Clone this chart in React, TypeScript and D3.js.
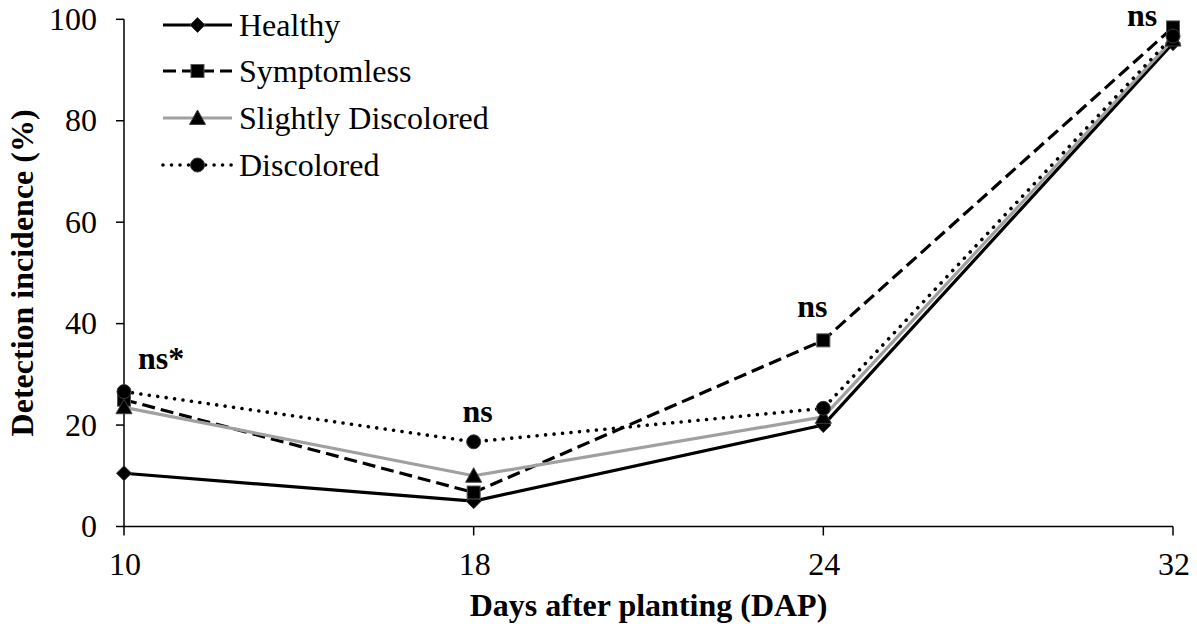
import React from "react";
import * as d3 from "d3";

const categories = ["10", "18", "24", "32"];
const yTicks = [0, 20, 40, 60, 80, 100];

const healthy = [10.5, 5, 20, 95.3];
const symptomless = [25, 6.7, 36.7, 98.4];
const slightlyDiscolored = [23.5, 10, 21.6, 96];
const discolored = [26.6, 16.7, 23.3, 96.7];

const seriesNames = ["Healthy", "Symptomless", "Slightly Discolored", "Discolored"];

// annotation text anchored at a category and a y value
const annotationTexts = ["ns*", "ns", "ns", "ns"];
const annotationCats = ["10", "18", "24", "32"];
const annotationValues = [31, 20.7, 41.4, 98.6];

const W = 1197;
const H = 630;
const M = { left: 124, right: 1173, top: 19.3, bottom: 526.5 };
const FONT = "Liberation Serif, Times New Roman, Times, serif";
const FS = 32;

type Style = {
  color: string;
  dash?: string;
  cap?: string;
  width: number;
  marker: "diamond" | "square" | "triangle" | "circle";
};

const styles: Style[] = [
  { color: "#000", width: 3.2, marker: "diamond" },
  { color: "#000", width: 3.2, dash: "13 6", marker: "square" },
  { color: "#a0a0a0", width: 3.2, marker: "triangle" },
  { color: "#000", width: 3.6, dash: "0.01 8.5", cap: "round", marker: "circle" },
];

const annotationDx = [14, 4, -11, -31];
const annotationAnchor = ["start", "middle", "middle", "middle"];

function Marker({ type, x, y }: { type: Style["marker"]; x: number; y: number }) {
  const fill = "#000";
  const stroke = "#3a3a3a";
  if (type === "diamond") {
    const r = 7.5;
    return <path d={`M${x},${y - r}L${x + r},${y}L${x},${y + r}L${x - r},${y}Z`} fill={fill} stroke={stroke} strokeWidth={1} />;
  }
  if (type === "square") {
    const r = 6.5;
    return <rect x={x - r} y={y - r} width={2 * r} height={2 * r} fill={fill} stroke="#555" strokeWidth={1} />;
  }
  if (type === "triangle") {
    const r = 8;
    return <path d={`M${x},${y - r}L${x + r},${y + r * 0.8}L${x - r},${y + r * 0.8}Z`} fill={fill} stroke={stroke} strokeWidth={1} />;
  }
  return <circle cx={x} cy={y} r={7} fill={fill} stroke={stroke} strokeWidth={1} />;
}

export default function App() {
  const x = d3.scalePoint<string>().domain(categories).range([M.left, M.right]);
  const y = d3.scaleLinear().domain([0, 100]).range([M.bottom, M.top]);
  const allSeries = [healthy, symptomless, slightlyDiscolored, discolored];
  const line = d3
    .line<number>()
    .x((_, i) => x(categories[i]) as number)
    .y((d) => y(d));

  const legendX0 = 163;
  const legendX1 = 232;
  const legendRows = [25, 71, 118, 165];
  const ts = { fontFamily: FONT };

  return (
    <svg width={W} height={H} style={{ position: "absolute", left: 0, top: 0, background: "#fff", fontFamily: FONT }}>
      {/* axes */}
      <line x1={M.left} x2={M.left} y1={M.top} y2={M.bottom} stroke="#000" strokeWidth={1.5} />
      <line x1={M.left} x2={M.right} y1={M.bottom} y2={M.bottom} stroke="#000" strokeWidth={1.5} />
      {yTicks.map((t) => (
        <g key={t}>
          <line x1={M.left - 8} x2={M.left} y1={y(t)} y2={y(t)} stroke="#000" strokeWidth={1.5} />
          <text x={97} y={y(t) + 10.5} textAnchor="end" fontSize={FS} style={ts}>
            {t}
          </text>
        </g>
      ))}
      {categories.map((c) => (
        <g key={c}>
          <line x1={x(c)} x2={x(c)} y1={M.bottom} y2={M.bottom + 9} stroke="#000" strokeWidth={1.5} />
          <text x={(x(c) as number) + 1} y={575} textAnchor="middle" fontSize={FS} style={ts}>
            {c}
          </text>
        </g>
      ))}
      <text x={(M.left + M.right) / 2} y={616} textAnchor="middle" fontSize={FS} fontWeight="bold" style={ts}>
        Days after planting (DAP)
      </text>
      <text
        transform={`translate(33,${(M.top + M.bottom) / 2}) rotate(-90)`}
        textAnchor="middle"
        fontSize={FS}
        fontWeight="bold"
        style={ts}
      >
        Detection incidence (%)
      </text>

      {/* series */}
      {allSeries.map((s, si) => (
        <g key={si}>
          <path
            d={line(s) as string}
            fill="none"
            stroke={styles[si].color}
            strokeWidth={styles[si].width}
            strokeDasharray={styles[si].dash}
            strokeLinecap={(styles[si].cap as any) || "butt"}
            strokeLinejoin="round"
          />
        </g>
      ))}
      {allSeries.map((s, si) => (
        <g key={"m" + si}>
          {s.map((v, i) => (
            <Marker key={i} type={styles[si].marker} x={x(categories[i]) as number} y={y(v)} />
          ))}
        </g>
      ))}

      {/* annotations */}
      {annotationTexts.map((t, i) => (
        <text
          key={i}
          x={(x(annotationCats[i]) as number) + annotationDx[i]}
          y={y(annotationValues[i])}
          textAnchor={annotationAnchor[i] as any}
          fontSize={FS}
          fontWeight="bold"
          style={ts}
        >
          {t}
        </text>
      ))}

      {/* legend */}
      {seriesNames.map((n, i) => (
        <g key={n}>
          <line
            x1={legendX0}
            x2={legendX1}
            y1={legendRows[i]}
            y2={legendRows[i]}
            stroke={styles[i].color}
            strokeWidth={styles[i].width}
            strokeDasharray={styles[i].dash}
            strokeLinecap={(styles[i].cap as any) || "butt"}
          />
          <Marker type={styles[i].marker} x={(legendX0 + legendX1) / 2} y={legendRows[i]} />
          <text x={239} y={legendRows[i] + 11} fontSize={FS} style={ts}>
            {n}
          </text>
        </g>
      ))}
    </svg>
  );
}
